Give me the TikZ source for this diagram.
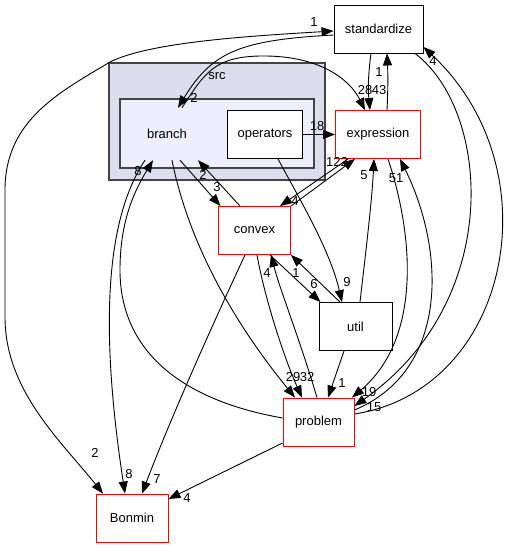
\documentclass[tikz,border=0pt]{standalone}
\usepackage{fontspec}
\setmainfont{Liberation Sans}
\usetikzlibrary{arrows.meta}
\definecolor{srcfill}{HTML}{DDDDEE}
\definecolor{brfill}{HTML}{EEEEFF}
\definecolor{clborder}{HTML}{444444}
\begin{document}
\begin{tikzpicture}[x=1pt,y=-1pt,
  box/.style={draw=black, fill=white, line width=0.9pt, minimum height=48pt, inner sep=0pt, font=\fontsize{13}{15}\selectfont},
  redbox/.style={box, draw=red},
  lbl/.style={inner sep=0pt, font=\fontsize{13}{15}\selectfont},
  dep/.style={draw=black, line width=0.9pt, -{Triangle[length=12pt,width=9pt]}},
  bidep/.style={draw=black, line width=0.9pt, {Triangle[length=12pt,width=9pt]}-{Triangle[length=12pt,width=9pt]}},
]
\fill[white] (0,0) rectangle (504,548);
\useasboundingbox (0,0) rectangle (504,548);

% clusters
\node[draw=clborder, fill=srcfill, line width=1.5pt, minimum width=216pt, minimum height=117pt, inner sep=0pt] (src) at (217,121.5) {};
\node[lbl] (srclbl) at (217,76) {src};
\node[draw=clborder, fill=brfill, line width=1.5pt, minimum width=194pt, minimum height=69pt, inner sep=0pt] (brcl) at (217,133.5) {};
\node[lbl, minimum width=60pt, minimum height=52pt] (branch) at (167,134) {branch};

% nodes
\node[box, minimum width=89pt] (standardize) at (378.5,29) {standardize};
\node[redbox, minimum width=85pt] (expression) at (378,134.5) {expression};
\node[box, minimum width=75pt] (operators) at (265,134.5) {operators};
\node[redbox, minimum width=72pt] (convex) at (254.5,230.5) {convex};
\node[box, minimum width=73pt] (util) at (355.5,326.5) {util};
\node[redbox, minimum width=71pt] (problem) at (318.5,422) {problem};
\node[redbox, minimum width=72pt] (Bonmin) at (132,518) {Bonmin};

% edges
% standardize <-> Bonmin (long left curve)
\draw[bidep] ([yshift=-2pt]standardize.west) .. controls (250,36) and (150,42) .. (110,62)
  .. controls (60,92) and (5,120) .. (5,190) -- (5,317)
  .. controls (5,390) and (60,440) .. ([xshift=-29pt]Bonmin.north);
\node[lbl] (l_a1) at (314,22) {1};
\node[lbl] (l_a2) at (95,453) {2};

% standardize -> branch
\draw[dep] ([yshift=-6pt]standardize.west) .. controls (240,40) and (212,52) .. ([xshift=11pt]branch.north);
\node[lbl] (l_b) at (194,98) {2};

% branch -> expression
\draw[dep] ([xshift=15pt]branch.north) .. controls (205,72) and (215,57) .. (260,56)
  .. controls (320,55) and (350,80) .. ([xshift=-13pt]expression.north);
\node[lbl] (l_c) at (365,90) {28};

% standardize -> expression
\draw[dep] ([xshift=-7.5pt]standardize.south) .. controls (368,75) and (368,90) .. ([xshift=-8pt]expression.north);
\node[lbl] (l_d) at (379,90) {43};

% expression -> standardize
\draw[dep] ([xshift=9pt]expression.north) .. controls (388,90) and (388,75) .. ([xshift=8.5pt]standardize.south);
\node[lbl] (l_e) at (379,72) {1};

% operators -> expression
\draw[dep] (operators.east) -- (expression.west);
\node[lbl] (l_f) at (317,126) {18};

% branch -> convex
\draw[dep] ([xshift=13pt]branch.south) -- ([xshift=-34pt]convex.north);
\node[lbl] (l_g) at (217,187) {3};

% convex -> branch
\draw[dep] ([xshift=-14.5pt]convex.north) -- ([xshift=31pt]branch.south);
\node[lbl] (l_h) at (203,175) {2};

% expression -> convex
\draw[dep] ([xshift=-30pt]expression.south) -- ([xshift=25.5pt]convex.north);
\node[lbl] (l_i) at (295,201) {4};

% convex -> expression
\draw[dep] (convex.north east) -- ([xshift=-23pt]expression.south);
\node[lbl] (l_j) at (337,162) {122};

% operators -> util
\draw[dep] ([xshift=13pt]operators.south) .. controls (300,200) and (330,250) .. ([xshift=-13.5pt]util.north);
\node[lbl] (l_k) at (347,282) {9};

% convex -> util
\draw[dep] ([xshift=15.5pt]convex.south) -- ([xshift=-35pt]util.north);
\node[lbl] (l_l) at (314,284) {6};

% util -> convex
\draw[dep] ([xshift=-15.5pt]util.north) -- (convex.south east);
\node[lbl] (l_m) at (296,273) {1};

% convex -> problem
\draw[dep] ([xshift=2.5pt]convex.south) .. controls (265,300) and (285,360) .. ([xshift=-16.5pt]problem.north);
\node[lbl] (l_n) at (307,377) {32};

% problem -> convex
\draw[dep] ([xshift=-1.5pt]problem.north) .. controls (300,340) and (280,290) .. ([xshift=16.5pt]convex.south);
\node[lbl] (l_o) at (267,273) {4};

% branch -> problem
\draw[dep] ([xshift=5pt]branch.south) .. controls (190,250) and (240,330) .. ([xshift=-23.5pt]problem.north);
\node[lbl] (l_p) at (293,377) {29};

% problem -> branch
\draw[dep] ([yshift=4pt]problem.west) .. controls (180,400) and (120,350) .. (120,270)
  .. controls (120,220) and (135,190) .. ([xshift=-14pt]branch.south);
\node[lbl] (l_q) at (138,171) {8};

% branch -> Bonmin
\draw[dep] ([xshift=-22pt]branch.south) .. controls (105,220) and (100,330) .. ([xshift=-7pt]Bonmin.north);
\node[lbl] (l_r) at (129,474) {8};

% convex -> Bonmin
\draw[dep] ([xshift=-9.5pt]convex.south) .. controls (210,330) and (170,420) .. ([xshift=10pt]Bonmin.north);
\node[lbl] (l_s) at (157,479) {7};

% util -> expression
\draw[dep] ([xshift=4.5pt]util.north) .. controls (366,250) and (372,200) .. ([xshift=-4pt]expression.south);
\node[lbl] (l_t) at (364,175) {5};

% expression -> problem
\draw[dep] ([xshift=10pt]expression.south) .. controls (415,240) and (420,340) .. ([xshift=33.5pt]problem.north);
\node[lbl] (l_u) at (369,392) {19};

% problem -> expression
\draw[dep] ([yshift=12pt]problem.east) .. controls (450,370) and (445,250) .. ([xshift=22pt]expression.south);
\node[lbl] (l_v) at (396,178) {51};

% standardize -> problem
\draw[dep] ([xshift=36.5pt]standardize.south) .. controls (490,110) and (505,300) .. ([yshift=16pt]problem.east);
\node[lbl] (l_w) at (374,407) {15};

% problem -> standardize
\draw[dep] ([yshift=8pt]problem.east) .. controls (510,390) and (555,170) .. ([yshift=-18pt]standardize.east);
\node[lbl] (l_x) at (433,61) {4};

% util -> problem
\draw[dep] ([xshift=-11.5pt]util.south) -- ([xshift=9.5pt]problem.north);
\node[lbl] (l_y) at (342,383) {1};

% problem -> Bonmin
\draw[dep] ([yshift=-21pt]problem.west) -- ([yshift=19pt]Bonmin.east);
\node[lbl] (l_z) at (187,498) {4};
\end{tikzpicture}
\end{document}
